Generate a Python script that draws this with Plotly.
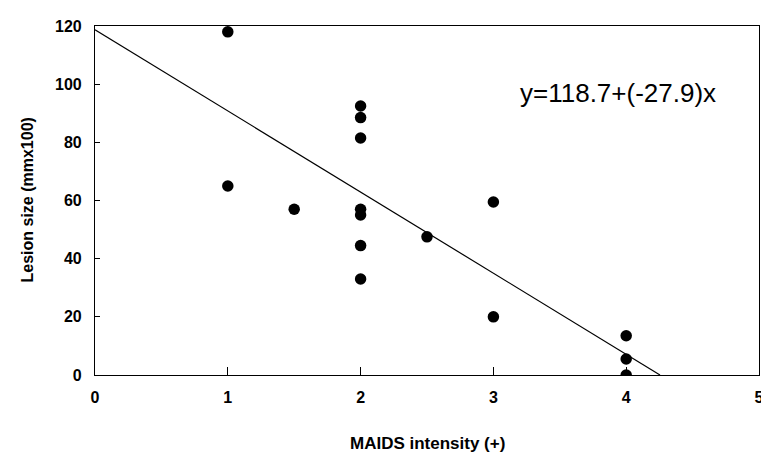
import plotly.graph_objects as go

# Data
maids_intensity = [1, 1, 1.5, 2, 2, 2, 2, 2, 2, 2, 2.5, 3, 3, 4, 4, 4]
lesion_size = [118, 65, 57, 92.5, 88.5, 81.5, 57, 55, 44.5, 33, 47.5, 59.5, 20, 13.5, 5.5, 0]

intercept = 118.7
slope = -27.9
fit_x = [0, -intercept / slope]
fit_y = [intercept + slope * v for v in fit_x]

x_ticks = [0, 1, 2, 3, 4, 5]
y_ticks = [0, 20, 40, 60, 80, 100, 120]

FONT = "Liberation Sans, Arial, sans-serif"

fig = go.Figure()
fig.add_trace(go.Scatter(x=fit_x, y=fit_y, mode="lines",
                         line=dict(color="black", width=1.2), showlegend=False))
fig.add_trace(go.Scatter(x=maids_intensity, y=lesion_size, mode="markers",
                         marker=dict(color="black", size=11.5), showlegend=False))

axis_common = dict(showgrid=False, zeroline=False, showline=True, linecolor="black",
                   linewidth=1.2, mirror=True, ticks="inside", tickcolor="black",
                   tickwidth=1, tickfont=dict(family=FONT, size=16, color="black", weight="bold"))

fig.update_xaxes(range=[0, 5], tickvals=x_ticks, ticklen=8, ticklabelstandoff=8, **axis_common)
fig.update_yaxes(range=[0, 120], tickvals=y_ticks, ticklen=5, ticklabelstandoff=9, **axis_common)

fig.add_annotation(text="y=118.7+(-27.9)x", x=3.94, y=97, xref="x", yref="y",
                   showarrow=False, font=dict(family=FONT, size=26, color="black"))
fig.add_annotation(text="MAIDS intensity (+)", x=0.5, y=0, xref="paper", yref="paper",
                   yanchor="middle", yshift=-68, showarrow=False,
                   font=dict(family=FONT, size=17, color="black", weight="bold"))
fig.add_annotation(text="Lesion size (mmx100)", x=0, y=0.5, xref="paper", yref="paper",
                   xanchor="center", xshift=-68, textangle=-90, showarrow=False,
                   font=dict(family=FONT, size=16, color="black", weight="bold"))

# page body has an 8px margin; margins compensate so the plot area sits where the reference's does
fig.update_layout(width=769, height=455, margin=dict(l=87, r=18, t=10, b=88),
                  plot_bgcolor="white", paper_bgcolor="white")

fig.write_html("out.html")
